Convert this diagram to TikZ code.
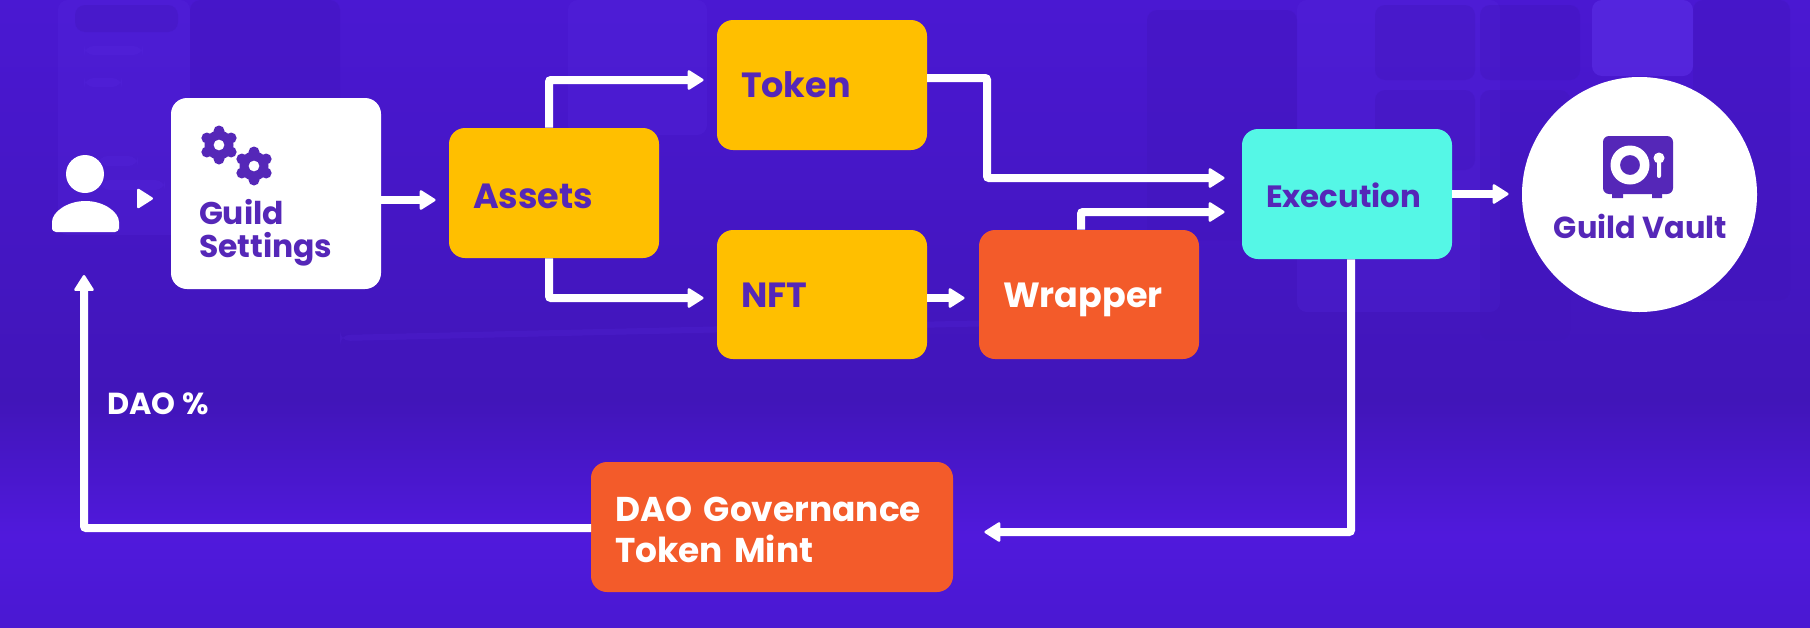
\documentclass[tikz,border=0pt]{standalone}
\usepackage{fontspec}
\setmainfont{Poppins}
\usetikzlibrary{arrows.meta}
\definecolor{bgpurple}{HTML}{4A18D2}
\definecolor{bgdark}{HTML}{4115B9}
\definecolor{bgglow}{HTML}{5019DC}
\definecolor{bglight}{HTML}{5E30E8}
\definecolor{inkpurple}{HTML}{5527B8}
\definecolor{amber}{HTML}{FFBF00}
\definecolor{flame}{HTML}{F35B2A}
\definecolor{aqua}{HTML}{55F7E6}
\begin{document}
\begin{tikzpicture}[x=0.5pt,y=-0.5pt]

    \tikzset{block/.style={%
      rectangle,%
      rounded corners=8pt,%
      inner sep=0pt,%
      font=\fontsize{17.5}{20.5}\selectfont\bfseries,%
      text=inkpurple,%
      align=left}%
    };

    \tikzset{midblock/.style={block, fill=amber, minimum width=105pt, text width=81pt,
      text height=38.5pt, text depth=26.5pt}};

    \tikzset{hotblock/.style={block, fill=flame, text=white}};

    \tikzset{smalltext/.style={inner sep=0pt, anchor=base, font=\fontsize{15.2}{18}\selectfont\bfseries}};

    \tikzset{link/.style={white, line width=4pt, rounded corners=1pt, shorten >=6.5pt,
      -{Triangle[length=8.5pt,width=10.5pt,line width=1.2pt,round]}}};

    \tikzset{haze/.style={bglight, opacity=0.18, rounded corners=5pt}};
    \tikzset{shadow/.style={bgdark, opacity=0.35, rounded corners=5pt}};

    \useasboundingbox (0,0) rectangle (1810,627);

    %%%%%%%%%%%%%%%
    %  backdrop   %
    %%%%%%%%%%%%%%%
    \shade[top color=bgpurple, bottom color=bgdark] (0,0) rectangle (1810,400);
    \shade[top color=bgdark, bottom color=bgglow] (0,400) rectangle (1810,535);
    \shade[top color=bgglow, bottom color=bgpurple] (0,535) rectangle (1810,627);

    \fill[haze] (58,0) rectangle (190,235);
    \fill[shadow] (75,5) rectangle (178,32);
    \fill[haze] (84,46) rectangle (143,55);
    \fill[haze] (84,78) rectangle (122,87);
    \fill[haze] (98,156) rectangle (138,166);
    \fill[haze] (100,180) rectangle (165,190);
    \fill[shadow] (190,0) rectangle (340,240);
    \fill[haze] (568,0) rectangle (707,135);
    \fill[haze] (340,335) -- (1000,320) -- (1000,326) -- (340,341) -- cycle;
    \fill[shadow] (1147,10) rectangle (1297,240);
    \fill[haze] (1297,0) rectangle (1500,312);
    \fill[shadow] (1375,5) rectangle (1475,80);
    \fill[shadow] (1375,90) rectangle (1475,170);
    \fill[shadow] (1480,5) rectangle (1580,80);
    \fill[shadow] (1480,90) rectangle (1570,340);
    \fill[bglight, opacity=0.55, rounded corners=5pt] (1592,0) rectangle (1693,76);
    \fill[shadow] (1693,0) rectangle (1790,300);

    %%%%%%%%%%%%%%%
    %  blocks     %
    %%%%%%%%%%%%%%%
    \node [block, fill=white, font=\fontsize{15.7}{16.5}\selectfont\bfseries, minimum width=105pt, text width=77pt, text height=63pt, text depth=32.5pt] (settings) at (276,193.5) {Guild\\Settings};
    \node [midblock, text height=40pt, text depth=25pt] (assets) at (554,193) {Assets};
    \node [midblock] (token) at (822,85) {Token};
    \node [midblock, text depth=26pt] (nft) at (822,294.5) {NFT};
    \node [hotblock, minimum width=110pt, text width=86pt, text height=38.5pt, text depth=26pt] (wrapper) at (1089,294.5) {Wrapper};
    \node [block, fill=aqua, font=\fontsize{15.4}{18}\selectfont\bfseries, minimum width=105pt, text width=81pt, text height=39pt, text depth=26pt] (execution) at (1347,194) {Execution};
    \node [hotblock, font=\fontsize{17.2}{20.5}\selectfont\bfseries, minimum width=181pt, text width=157pt, text height=29.5pt, text depth=35.5pt] (mint) at (772,527) {DAO Governance\\Token Mint};
    \node [circle, fill=white, minimum size=117.5pt, inner sep=0pt] (vault) at (1639.5,194.5) {};
    \node [smalltext, text=inkpurple] (vaultname) at (1640.5,238) {Guild Vault};
    \node [smalltext, text=white, anchor=base west] (daoshare) at (107,414) {DAO \%};

    %%%%%%%%%%%%%%%
    %  icons      %
    %%%%%%%%%%%%%%%
    \fill[white] (85,174) circle (19);
    \fill[white, rounded corners=2pt] (52,232) -- (52,226) arc (180:360:33.5 and 25) -- (119,232) -- cycle;
    \foreach \gx/\gy in {219/145, 254/166} {
      \foreach \ang in {30,90,...,330}
        \fill[inkpurple] (\gx,\gy) ++(\ang:14) circle (5.5);
      \fill[inkpurple, even odd rule] (\gx,\gy) circle (14.5) (\gx,\gy) circle (5.5);
    }
    \fill[inkpurple, rounded corners=3pt] (1603,136) rectangle (1673,194);
    \fill[inkpurple] (1612,192) rectangle (1623,198) (1652,192) rectangle (1662,198);
    \fill[white, even odd rule] (1630,165) circle (19.5) (1630,165) circle (10);
    \fill[white] (1659,158) circle (5.5);
    \fill[white, rounded corners=1pt] (1657,158) rectangle (1661,178);

    %%%%%%%%%%%%%%%
    %  links      %
    %%%%%%%%%%%%%%%
    \coordinate (usertip) at (138,198.5);
    \coordinate (settingsout) at (381,200);
    \coordinate (upbend) at (549,80);
    \coordinate (downbend) at (549,298);
    \coordinate (tokenout) at (927,78);
    \coordinate (tokenbend) at (987,178);
    \coordinate (wrapbend) at (1081,212);
    \coordinate (exitbend) at (1351,532);
    \coordinate (mintout) at (591,528);
    \coordinate (usermark) at (84,275);

    \draw [link, line width=1pt, shorten >=0pt] (usertip) -- ++(15,0);
    \draw [link] (settingsout) -- (assets.west |- settingsout);
    \draw [link] (upbend |- assets.north) -- (upbend) -- (token.west |- upbend);
    \draw [link] (downbend |- assets.south) -- (downbend) -- (nft.west |- downbend);
    \draw [link, shorten >=8.5pt] (tokenout) -| (tokenbend) -- (execution.west |- tokenbend);
    \draw [link, shorten >=8.5pt] (wrapbend |- wrapper.north) -- (wrapbend) -- (execution.west |- wrapbend);
    \draw [link, shorten >=7pt] (nft.east |- downbend) -- (wrapper.west |- downbend);
    \draw [link] (execution.east) -- (vault.west |- execution.east);
    \draw [link, shorten >=15.5pt] (exitbend |- execution.south) -- (exitbend) -- (mint.east |- exitbend);
    \draw [link, shorten >=0pt] (mintout) -| (usermark);

\end{tikzpicture}
\end{document}
